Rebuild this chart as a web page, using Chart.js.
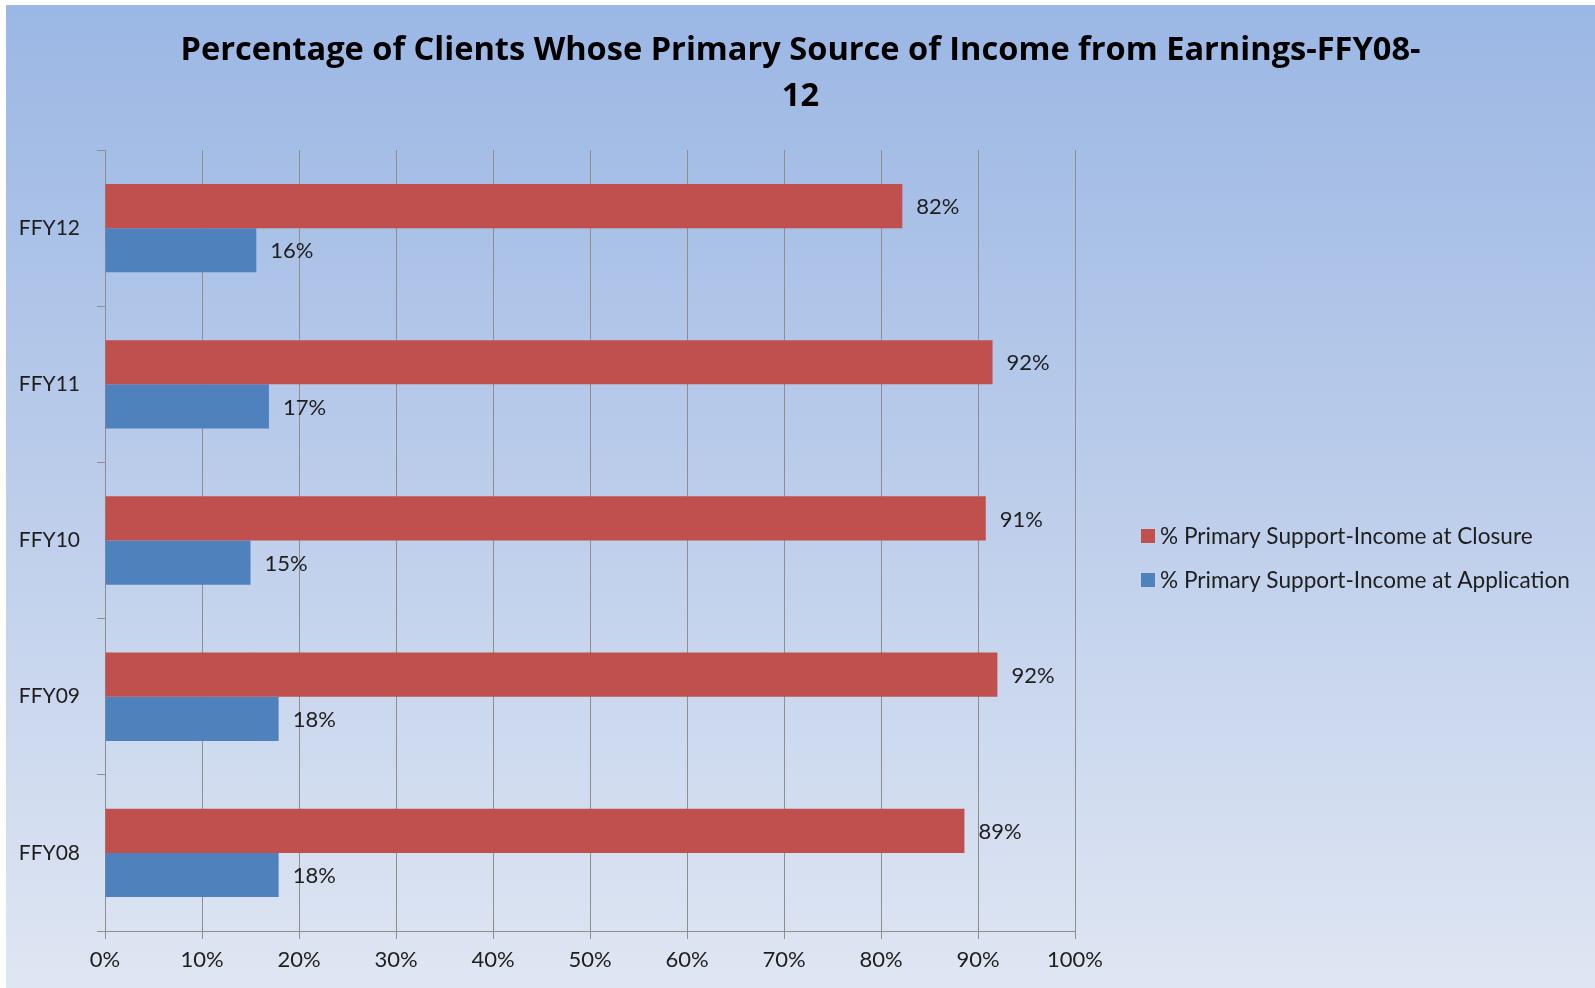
<!DOCTYPE html>
<html>
<head>
<meta charset="utf-8">
<script src="https://cdn.jsdelivr.net/npm/chart.js@4.4.0/dist/chart.umd.min.js"></script>
<style>
  html, body { margin: 0; padding: 0; background: #ffffff; }
  #wrap {
    position: absolute; left: 6px; top: 5px; width: 1589px; height: 983px;
    background: linear-gradient(to bottom, #9bb7e4 0%, #b9cbea 45%, #dfe6f3 100%);
  }
  canvas { display: block; }
</style>
</head>
<body>
<div id="wrap"><canvas id="c" width="1589" height="983"></canvas></div>
<script>
const categories = ['FFY12', 'FFY11', 'FFY10', 'FFY09', 'FFY08'];
const closureValues = [82.2, 91.5, 90.8, 92.0, 88.6];
const applicationValues = [15.6, 16.9, 15.0, 17.9, 17.9];
const seriesNames = ['% Primary Support-Income at Closure', '% Primary Support-Income at Application'];
const xTicks = [0, 10, 20, 30, 40, 50, 60, 70, 80, 90, 100];
const titleLines = ['Percentage of Clients Whose Primary Source of Income from Earnings-FFY08-', '12'];

const FONT = 'Lato, "Open Sans", sans-serif';
const TITLE_FONT = '"Open Sans", Lato, sans-serif';
const GRID = '#8e8e8e';
const TEXT = '#1e1e1e';

const valueLabels = {
  id: 'valueLabels',
  afterDatasetsDraw(chart) {
    const ctx = chart.ctx;
    ctx.save();
    ctx.font = '22px ' + FONT;
    ctx.fillStyle = TEXT;
    ctx.textAlign = 'left';
    ctx.textBaseline = 'middle';
    chart.data.datasets.forEach((ds, i) => {
      chart.getDatasetMeta(i).data.forEach((bar, j) => {
        ctx.fillText(Math.round(ds.data[j]) + '%', bar.x + 14, bar.y + 1);
      });
    });
    ctx.restore();
  }
};

const sideLegend = {
  id: 'sideLegend',
  afterDraw(chart) {
    const ctx = chart.ctx;
    ctx.save();
    ctx.font = '22.6px ' + FONT;
    ctx.textAlign = 'left';
    ctx.textBaseline = 'middle';
    const x = 1135, ys = [531, 575];
    chart.data.datasets.forEach((ds, i) => {
      ctx.fillStyle = ds.backgroundColor;
      ctx.fillRect(x, ys[i] - 7, 14, 14);
      ctx.fillStyle = TEXT;
      ctx.fillText(ds.label, x + 19, ys[i] + 1);
    });
    ctx.restore();
  }
};

new Chart(document.getElementById('c'), {
  type: 'bar',
  data: {
    labels: categories,
    datasets: [
      { label: seriesNames[0], data: closureValues, backgroundColor: '#c0504d' },
      { label: seriesNames[1], data: applicationValues, backgroundColor: '#4f81bd' }
    ]
  },
  options: {
    indexAxis: 'y',
    responsive: false,
    animation: false,
    devicePixelRatio: 1,
    categoryPercentage: 0.566,
    barPercentage: 1,
    layout: { padding: 0 },
    plugins: {
      legend: { display: false },
      tooltip: { enabled: false },
      title: {
        display: true,
        text: titleLines,
        color: '#000000',
        font: { family: TITLE_FONT, size: 32.6, weight: 'bold', lineHeight: 1.4 },
        padding: { top: 23.2, bottom: 30.6 }
      }
    },
    scales: {
      x: {
        min: 0, max: 100,
        afterBuildTicks(scale) { scale.ticks = xTicks.map(v => ({ value: v })); },
        afterFit(scale) { scale.height = 57; },
        ticks: {
          callback: v => v + '%',
          color: TEXT,
          font: { family: FONT, size: 22 },
          padding: 8
        },
        grid: { color: GRID, lineWidth: 1, tickLength: 8, drawTicks: true },
        border: { color: GRID, width: 1 }
      },
      y: {
        afterFit(scale) { scale.width = 99; },
        ticks: {
          color: TEXT,
          font: { family: FONT, size: 21 },
          padding: 17
        },
        grid: { color: GRID, drawOnChartArea: false, tickLength: 8, offset: true },
        border: { color: GRID, width: 1 }
      },
      legendSpace: {
        type: 'category',
        labels: categories,
        position: 'right',
        afterFit(scale) { scale.width = 520; },
        ticks: { display: false },
        grid: { display: false },
        border: { display: false }
      }
    }
  },
  plugins: [valueLabels, sideLegend]
});
</script>
</body>
</html>
